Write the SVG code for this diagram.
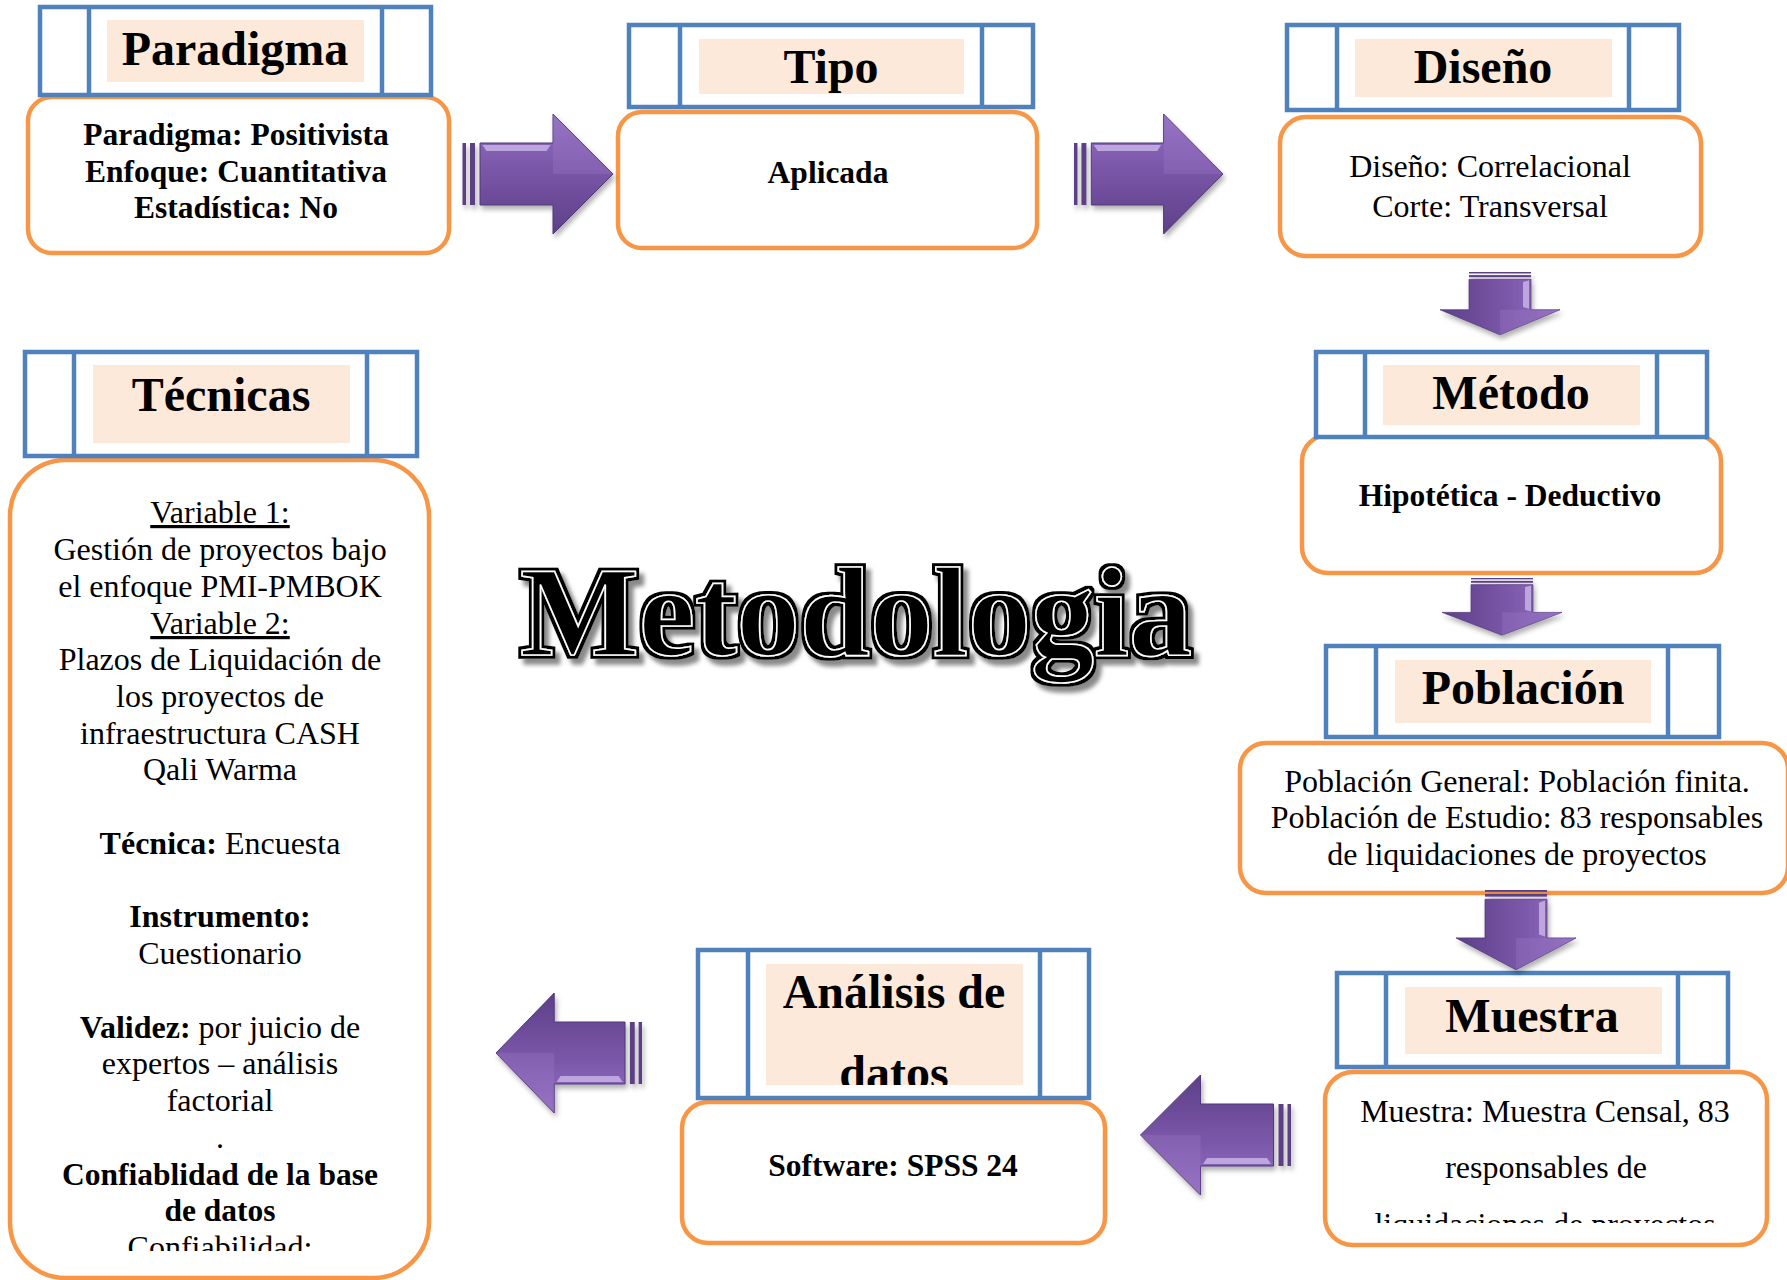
<svg xmlns="http://www.w3.org/2000/svg" xmlns:xlink="http://www.w3.org/1999/xlink" width="1787" height="1280" viewBox="0 0 1787 1280">
  <style>
    .frame { fill: #ffffff; stroke: #4F81BD; stroke-width: 4.5; }
    .sep { stroke: #4F81BD; stroke-width: 4.5; }
    .band { fill: #FDE9D9; }
    .body { fill: #ffffff; stroke: #F79646; stroke-width: 4.5; }
    text { font-family: "Liberation Serif", "Times New Roman", serif; fill: #000; text-anchor: middle; }
    .h { font-size: 48px; font-weight: bold; }
    .b { font-size: 31.5px; font-weight: bold; }
    .r { font-size: 32px; }
    .u { text-decoration: underline; }
    .bold { font-weight: bold; }
  </style>
  <defs>
    <linearGradient id="pg" gradientUnits="userSpaceOnUse" x1="0" y1="-60" x2="0" y2="60">
      <stop offset="0" stop-color="#9470C2"/>
      <stop offset="0.45" stop-color="#7B57A9"/>
      <stop offset="1" stop-color="#5C3F88"/>
    </linearGradient>
    <filter id="sh" x="-20%" y="-20%" width="140%" height="150%">
      <feDropShadow dx="2" dy="4" stdDeviation="2.5" flood-color="#000" flood-opacity="0.3"/>
    </filter>
    <!-- black rim around the glyphs plus a soft grey drop shadow -->
    <filter id="emboss" x="-5%" y="-20%" width="112%" height="150%">
      <feMorphology in="SourceAlpha" operator="dilate" radius="2.6" result="fat"/>
      <feFlood flood-color="#000000" result="ink"/>
      <feComposite in="ink" in2="fat" operator="in" result="rim"/>
      <feOffset in="fat" dx="5" dy="6" result="off"/>
      <feGaussianBlur in="off" stdDeviation="2.2" result="offb"/>
      <feFlood flood-color="#8a8a8a" result="grey"/>
      <feComposite in="grey" in2="offb" operator="in" result="shadow"/>
      <feMerge>
        <feMergeNode in="shadow"/>
        <feMergeNode in="rim"/>
        <feMergeNode in="SourceGraphic"/>
      </feMerge>
    </filter>
    <!-- block arrow pointing right; origin at the tail stripes, y=0 at the tip -->
    <g id="arw">
      <rect x="0" y="-31" width="3.5" height="62" fill="#5B3F84"/>
      <rect x="7.5" y="-31" width="5" height="62" fill="#5B3F84"/>
      <path d="M17.5,-31 H90.5 V-60 L150.5,0 L90.5,60 V31 H17.5 Z" fill="url(#pg)" stroke="#51377A" stroke-width="1"/>
      <path d="M90.5,-60 L150.5,0 L90.5,0 Z" fill="#9A78C6" opacity="0.35"/>
      <path d="M20,-29 H88 L84,-23 H24 Z" fill="#BDA5DE"/>
    </g>
    <clipPath id="clipAna"><rect x="766" y="964" width="257" height="121"/></clipPath>
    <clipPath id="clipMue"><rect x="1325" y="1072" width="442" height="151"/></clipPath>
    <clipPath id="clipTec"><rect x="10" y="460" width="419" height="791"/></clipPath>
  </defs>

  <rect width="1787" height="1280" fill="#ffffff"/>

  <!-- central title -->
  <g id="title">
    <text x="856" y="655" style="font-size:126px;font-weight:bold" stroke="#ffffff" stroke-width="1.6" filter="url(#emboss)">Metodologia</text>
  </g>

  <!-- Paradigma -->
  <g id="paradigma">
    <rect class="body" x="28" y="97" width="421" height="156" rx="24"/>
    <rect class="frame" x="40" y="7" width="391" height="88"/>
    <rect class="band" x="107" y="20" width="257" height="62"/>
    <line class="sep" x1="89" y1="7" x2="89" y2="95"/>
    <line class="sep" x1="382" y1="7" x2="382" y2="95"/>
    <text class="h" x="235" y="65">Paradigma</text>
    <text class="b" x="236" y="145">Paradigma: Positivista</text>
    <text class="b" x="236" y="182">Enfoque: Cuantitativa</text>
    <text class="b" x="236" y="218">Estadística: No</text>
  </g>

  <!-- Tipo -->
  <g id="tipo">
    <rect class="body" x="618" y="112" width="419" height="136" rx="24"/>
    <rect class="frame" x="629" y="25" width="404" height="82"/>
    <rect class="band" x="699" y="39" width="265" height="55"/>
    <line class="sep" x1="680" y1="25" x2="680" y2="107"/>
    <line class="sep" x1="982" y1="25" x2="982" y2="107"/>
    <text class="h" x="831" y="83">Tipo</text>
    <text class="b" x="828" y="183">Aplicada</text>
  </g>

  <!-- Diseño -->
  <g id="diseno">
    <rect class="body" x="1280" y="117" width="421" height="139" rx="26"/>
    <rect class="frame" x="1287" y="25" width="392" height="85"/>
    <rect class="band" x="1355" y="39" width="257" height="58"/>
    <line class="sep" x1="1337" y1="25" x2="1337" y2="110"/>
    <line class="sep" x1="1629" y1="25" x2="1629" y2="110"/>
    <text class="h" x="1483" y="83">Diseño</text>
    <text class="r" x="1490" y="177">Diseño: Correlacional</text>
    <text class="r" x="1490" y="217">Corte: Transversal</text>
  </g>

  <!-- Método -->
  <g id="metodo">
    <rect class="body" x="1302" y="435" width="419" height="138" rx="26"/>
    <rect class="frame" x="1316" y="352" width="391" height="85"/>
    <rect class="band" x="1383" y="365" width="257" height="60"/>
    <line class="sep" x1="1365" y1="352" x2="1365" y2="437"/>
    <line class="sep" x1="1657" y1="352" x2="1657" y2="437"/>
    <text class="h" x="1511" y="409">Método</text>
    <text class="b" x="1510" y="506">Hipotética - Deductivo</text>
  </g>

  <!-- Población -->
  <g id="poblacion">
    <rect class="body" x="1240" y="743" width="548" height="150" rx="26"/>
    <rect class="frame" x="1326" y="646" width="393" height="91"/>
    <rect class="band" x="1395" y="660" width="256" height="63"/>
    <line class="sep" x1="1376" y1="646" x2="1376" y2="737"/>
    <line class="sep" x1="1668" y1="646" x2="1668" y2="737"/>
    <text class="h" x="1523" y="704">Población</text>
    <text class="r" x="1517" y="792">Población General: Población finita.</text>
    <text class="r" x="1517" y="828">Población de Estudio: 83 responsables</text>
    <text class="r" x="1517" y="865">de liquidaciones de proyectos</text>
  </g>

  <!-- Muestra -->
  <g id="muestra">
    <rect class="body" x="1325" y="1072" width="442" height="173" rx="28"/>
    <rect class="frame" x="1337" y="973" width="391" height="94"/>
    <rect class="band" x="1405" y="987" width="257" height="67"/>
    <line class="sep" x1="1386" y1="973" x2="1386" y2="1067"/>
    <line class="sep" x1="1678" y1="973" x2="1678" y2="1067"/>
    <text class="h" x="1532" y="1032">Muestra</text>
    <g clip-path="url(#clipMue)">
      <text class="r" x="1545" y="1122">Muestra: Muestra Censal, 83</text>
      <text class="r" x="1546" y="1178">responsables de</text>
      <text class="r" x="1545" y="1235">liquidaciones de proyectos</text>
    </g>
  </g>

  <!-- Análisis de datos -->
  <g id="analisis">
    <rect class="body" x="682" y="1102" width="423" height="141" rx="26"/>
    <rect class="frame" x="698" y="950" width="391" height="148"/>
    <rect class="band" x="766" y="964" width="257" height="121"/>
    <line class="sep" x1="748" y1="950" x2="748" y2="1098"/>
    <line class="sep" x1="1040" y1="950" x2="1040" y2="1098"/>
    <g clip-path="url(#clipAna)">
      <text class="h" x="894" y="1008">Análisis de</text>
      <text class="h" x="894" y="1089">datos</text>
    </g>
    <text class="b" x="893" y="1176">Software: SPSS 24</text>
  </g>

  <!-- Técnicas -->
  <g id="tecnicas">
    <rect class="body" x="10" y="460" width="419" height="818" rx="56"/>
    <rect class="frame" x="25" y="352" width="392" height="104"/>
    <rect class="band" x="93" y="365" width="257" height="78"/>
    <line class="sep" x1="74" y1="352" x2="74" y2="456"/>
    <line class="sep" x1="367" y1="352" x2="367" y2="456"/>
    <text class="h" x="221" y="411">Técnicas</text>
    <g clip-path="url(#clipTec)">
      <text class="r u" x="220" y="523">Variable 1:</text>
      <text class="r" x="220" y="560">Gestión de proyectos bajo</text>
      <text class="r" x="220" y="597">el enfoque PMI-PMBOK</text>
      <text class="r u" x="220" y="634">Variable 2:</text>
      <text class="r" x="220" y="670">Plazos de Liquidación de</text>
      <text class="r" x="220" y="707">los proyectos de</text>
      <text class="r" x="220" y="744">infraestructura CASH</text>
      <text class="r" x="220" y="780">Qali Warma</text>
      <text class="r" x="220" y="854"><tspan class="bold">Técnica:</tspan> Encuesta</text>
      <text class="r bold" x="220" y="927">Instrumento:</text>
      <text class="r" x="220" y="964">Cuestionario</text>
      <text class="r" x="220" y="1038"><tspan class="bold">Validez:</tspan> por juicio de</text>
      <text class="r" x="220" y="1074">expertos – análisis</text>
      <text class="r" x="220" y="1111">factorial</text>
      <text class="r" x="220" y="1148">.</text>
      <text class="b" x="220" y="1185">Confiablidad de la base</text>
      <text class="b" x="220" y="1221">de datos</text>
      <text class="r" x="220" y="1258">Confiabilidad:</text>
    </g>
  </g>

  <!-- flow arrows -->
  <g id="connectors" filter="url(#sh)">
    <use xlink:href="#arw" href="#arw" transform="translate(462.5,174)"/>
    <use xlink:href="#arw" href="#arw" transform="translate(1074,174) scale(0.99,1)"/>
    <use xlink:href="#arw" href="#arw" transform="translate(1500,272) rotate(90) scale(0.417,1)"/>
    <use xlink:href="#arw" href="#arw" transform="translate(1502,578) rotate(90) scale(0.38,1)"/>
    <use xlink:href="#arw" href="#arw" transform="translate(1516,890) rotate(90) scale(0.53,1)"/>
    <use xlink:href="#arw" href="#arw" transform="translate(1291,1135) rotate(180)"/>
    <use xlink:href="#arw" href="#arw" transform="translate(642,1053) rotate(180) scale(0.97,1)"/>
  </g>
</svg>
